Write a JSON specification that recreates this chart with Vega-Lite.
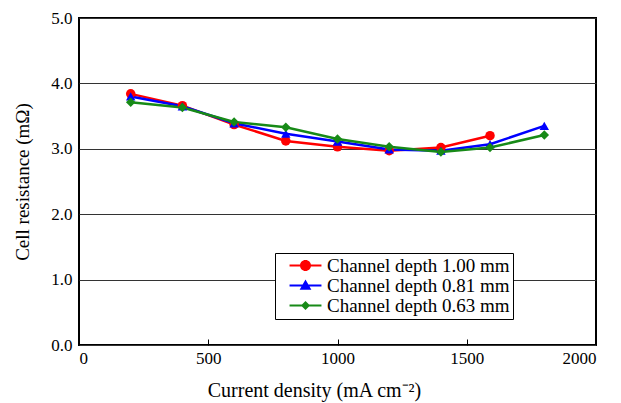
{
  "$schema": "https://vega.github.io/schema/vega-lite/v6.json",
  "width": 517,
  "height": 327,
  "autosize": {"type": "none"},
  "padding": {"left": 79, "top": 18, "right": 25, "bottom": 58},
  "background": "white",
  "config": {
    "view": {"stroke": "black", "strokeWidth": 2},
    "font": "Times New Roman, Liberation Serif, serif"
  },
  "data": {"values": [
    {"j": 200, "r": 3.84, "s": "Channel depth 1.00 mm"},
    {"j": 400, "r": 3.66, "s": "Channel depth 1.00 mm"},
    {"j": 600, "r": 3.37, "s": "Channel depth 1.00 mm"},
    {"j": 800, "r": 3.12, "s": "Channel depth 1.00 mm"},
    {"j": 1000, "r": 3.03, "s": "Channel depth 1.00 mm"},
    {"j": 1200, "r": 2.97, "s": "Channel depth 1.00 mm"},
    {"j": 1400, "r": 3.02, "s": "Channel depth 1.00 mm"},
    {"j": 1590, "r": 3.20, "s": "Channel depth 1.00 mm"},
    {"j": 200, "r": 3.80, "s": "Channel depth 0.81 mm"},
    {"j": 400, "r": 3.65, "s": "Channel depth 0.81 mm"},
    {"j": 600, "r": 3.39, "s": "Channel depth 0.81 mm"},
    {"j": 800, "r": 3.23, "s": "Channel depth 0.81 mm"},
    {"j": 1000, "r": 3.11, "s": "Channel depth 0.81 mm"},
    {"j": 1200, "r": 2.99, "s": "Channel depth 0.81 mm"},
    {"j": 1400, "r": 2.97, "s": "Channel depth 0.81 mm"},
    {"j": 1590, "r": 3.07, "s": "Channel depth 0.81 mm"},
    {"j": 1800, "r": 3.35, "s": "Channel depth 0.81 mm"},
    {"j": 200, "r": 3.71, "s": "Channel depth 0.63 mm"},
    {"j": 400, "r": 3.63, "s": "Channel depth 0.63 mm"},
    {"j": 600, "r": 3.41, "s": "Channel depth 0.63 mm"},
    {"j": 800, "r": 3.33, "s": "Channel depth 0.63 mm"},
    {"j": 1000, "r": 3.15, "s": "Channel depth 0.63 mm"},
    {"j": 1200, "r": 3.03, "s": "Channel depth 0.63 mm"},
    {"j": 1400, "r": 2.95, "s": "Channel depth 0.63 mm"},
    {"j": 1590, "r": 3.02, "s": "Channel depth 0.63 mm"},
    {"j": 1800, "r": 3.21, "s": "Channel depth 0.63 mm"}
  ]},
  "encoding": {
    "x": {
      "field": "j", "type": "quantitative",
      "scale": {"domain": [0, 2000], "nice": false},
      "axis": {
        "title": "Current density (mA cm⁻²)",
        "values": [0, 500, 1000, 1500, 2000],
        "format": "d",
        "grid": false,
        "domain": false,
        "tickSize": -6, "tickColor": "black", "tickWidth": 1,
        "labelFont": "Times New Roman, Liberation Serif, serif", "labelFontSize": 17, "labelColor": "black",
        "labelPadding": 11,
        "titleFont": "Times New Roman, Liberation Serif, serif", "titleFontSize": 20, "titleFontWeight": "normal", "titleColor": "black",
        "titlePadding": 14, "titleX": 235
      }
    },
    "y": {
      "field": "r", "type": "quantitative",
      "scale": {"domain": [0, 5], "nice": false},
      "axis": {
        "title": "Cell resistance (mΩ)",
        "values": [0, 1, 2, 3, 4, 5],
        "format": ".1f",
        "grid": true, "gridColor": "#333", "gridWidth": 1, "gridOpacity": 1,
        "domain": false, "ticks": false,
        "labelFont": "Times New Roman, Liberation Serif, serif", "labelFontSize": 17, "labelColor": "black",
        "labelPadding": 7,
        "titleFont": "Times New Roman, Liberation Serif, serif", "titleFontSize": 19, "titleFontWeight": "normal", "titleColor": "black",
        "titlePadding": 18
      }
    },
    "color": {
      "field": "s", "type": "nominal",
      "scale": {"domain": ["Channel depth 1.00 mm", "Channel depth 0.81 mm", "Channel depth 0.63 mm"], "range": ["#ff0000", "#0000ff", "#178a17"]},
      "legend": {
        "title": null, "orient": "none", "legendX": 196, "legendY": 235,
        "strokeColor": "black", "fillColor": "white", "padding": 3,
        "symbolSize": 361, "symbolStrokeWidth": 0, "symbolOffset": 18,
        "labelFont": "Times New Roman, Liberation Serif, serif", "labelFontSize": 19, "labelColor": "black", "labelOffset": 12,
        "labelLimit": 300,
        "labelExpr": "datum.label + '\u00a0\u00a0\u00a0\u00a0\u00a0'",
        "rowPadding": 0
      }
    }
  },
  "layer": [
    {"mark": {"type": "line", "strokeWidth": 2.5}},
    {
      "mark": {"type": "point", "filled": true, "opacity": 1, "size": 90},
      "encoding": {
        "shape": {
          "condition": [
            {"test": "datum.s === 'Channel depth 1.00 mm'", "value": "circle"},
            {"test": "datum.s === 'Channel depth 0.81 mm'", "value": "triangle-up"}
          ],
          "value": "diamond"
        }
      }
    },
    {
      "mark": {"type": "point", "filled": true, "opacity": 0, "size": 0},
      "encoding": {
        "shape": {
          "field": "s", "type": "nominal",
          "scale": {"domain": ["Channel depth 1.00 mm", "Channel depth 0.81 mm", "Channel depth 0.63 mm"], "range": [
            "M-1.68,-0.11H1.68V0.11H-1.68Z M0.58,0A0.58,0.58 0 1,1 -0.58,0A0.58,0.58 0 1,1 0.58,0Z",
            "M-1.68,-0.11H1.68V0.11H-1.68Z M0,-0.62L0.62,0.46L-0.62,0.46Z",
            "M-1.68,-0.11H1.68V0.11H-1.68Z M0,-0.48L0.48,0L0,0.48L-0.48,0Z"
          ]},
          "legend": {
            "title": null, "orient": "none", "legendX": 196, "legendY": 235,
            "strokeColor": "black", "fillColor": "white", "padding": 3,
            "symbolSize": 361, "symbolStrokeWidth": 0, "symbolOffset": 18, "symbolOpacity": 1,
            "labelFont": "Times New Roman, Liberation Serif, serif", "labelFontSize": 19, "labelColor": "black", "labelOffset": 12,
            "labelLimit": 300,
            "labelExpr": "datum.label + '\u00a0\u00a0\u00a0\u00a0\u00a0'",
            "rowPadding": 0
          }
        }
      }
    }
  ]
}
